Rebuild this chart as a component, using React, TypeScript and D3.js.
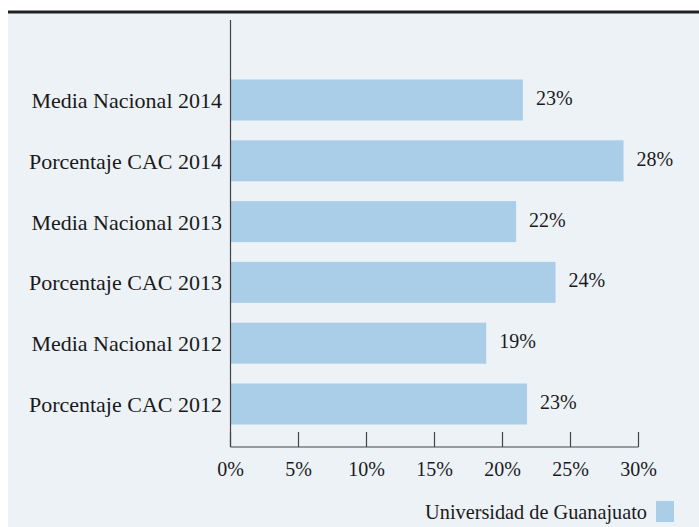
import * as d3 from "d3";

// categories top to bottom
const categories = [
  "Media Nacional 2014",
  "Porcentaje CAC 2014",
  "Media Nacional 2013",
  "Porcentaje CAC 2013",
  "Media Nacional 2012",
  "Porcentaje CAC 2012",
];
// bar lengths as drawn (percent)
const barValues = [21.5, 28.9, 21.0, 23.9, 18.8, 21.8];
// printed labels
const valueLabels = ["23%", "28%", "22%", "24%", "19%", "23%"];
const xTicks = [0, 5, 10, 15, 20, 25, 30];
const seriesName = "Universidad de Guanajuato";

const W = 699;
const H = 527;
const FONT = "'Liberation Serif', 'Times New Roman', serif";
const BAR = "#abcee8";
const BG = "#edf2f7";
const INK = "#1a1a1a";

export default function App() {
  const x = d3.scaleLinear().domain([0, 30]).range([230.5, 638.5]);
  const y = d3
    .scaleBand<string>()
    .domain(categories)
    .range([69.6, 434.4])
    .paddingInner(0.325)
    .paddingOuter(0.1625);
  const axisY = 447;

  return (
    <svg
      width={W}
      height={H}
      style={{ position: "absolute", left: 0, top: 0, display: "block" }}
      fontFamily={FONT}
    >
      <rect x={0} y={0} width={W} height={H} fill="#ffffff" />
      <rect x={8} y={13} width={W - 8} height={H - 13} fill={BG} />
      <rect x={8} y={10.5} width={W - 8} height={3} fill="#222" />

      {/* bars */}
      {categories.map((c, i) => (
        <g key={c}>
          <rect
            x={x(0)}
            y={y(c)}
            width={x(barValues[i]) - x(0)}
            height={y.bandwidth()}
            fill={BAR}
          />
          <text
            x={222}
            y={(y(c) as number) + y.bandwidth() / 2 + 8}
            textAnchor="end"
            fontSize={22}
            fill={INK}
          >
            {c}
          </text>
          <text
            x={x(barValues[i]) + 13}
            y={(y(c) as number) + y.bandwidth() / 2 + 5}
            fontSize={20}
            fill={INK}
          >
            {valueLabels[i]}
          </text>
        </g>
      ))}

      {/* axes */}
      <line x1={x(0)} x2={x(0)} y1={20} y2={axisY} stroke="#444" strokeWidth={1.2} />
      <line x1={x(0)} x2={x(30)} y1={axisY} y2={axisY} stroke="#444" strokeWidth={1.2} />
      {xTicks.map((t) => (
        <g key={t}>
          <line x1={x(t)} x2={x(t)} y1={axisY - 15} y2={axisY} stroke="#444" strokeWidth={1.2} />
          <text x={x(t)} y={476} textAnchor="middle" fontSize={20} fill={INK}>
            {t}%
          </text>
        </g>
      ))}

      {/* legend */}
      <text x={647} y={519} textAnchor="end" fontSize={20.3} fill={INK}>
        {seriesName}
      </text>
      <rect x={656} y={501} width={18} height={21} fill={BAR} />
    </svg>
  );
}
